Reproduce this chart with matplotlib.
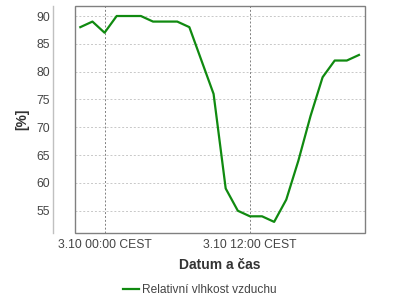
"""
Relative humidity over one day, redrawn with matplotlib.
"""

import matplotlib
matplotlib.use('Agg')
import matplotlib.pyplot as plt
from matplotlib.patches import Rectangle

# hours relative to 3.10 00:00 CEST
hours = [-2, -1, 0, 1, 2, 3, 4, 5, 6, 7, 8, 9, 10, 11, 12,
         13, 14, 15, 16, 17, 18, 19, 20, 21]
humidity = [88, 89, 87, 90, 90, 90, 89, 89, 89, 88, 82, 76, 59, 55, 54,
            54, 53, 57, 64, 72, 79, 82, 82, 83]

x_ticks = [0, 12]
x_tick_labels = ['3.10 00:00 CEST', '3.10 12:00 CEST']
y_ticks = [55, 60, 65, 70, 75, 80, 85, 90]

series_name = 'Relativní vlhkost vzduchu'
line_color = '#108a10'
text_color = '#444444'


def main():
    plt.rcParams['font.family'] = ['Liberation Sans', 'DejaVu Sans']

    fig = plt.figure(figsize=(4, 3), dpi=100)
    ax = fig.add_axes([75 / 400, 67 / 300, 290 / 400, 227 / 300])

    ax.plot(hours, humidity, color=line_color, linewidth=1.6,
            label=series_name, zorder=3)

    ax.set_xlim(-2.44, 21.5)
    ax.set_ylim(51.0, 91.8)

    # grid: light horizontal dashes, darker vertical ones
    for y in y_ticks:
        ax.axhline(y, color='#c8c8c8', linewidth=0.7, linestyle=(0, (2, 2)), zorder=1)
    for x in x_ticks:
        ax.axvline(x, color='#808080', linewidth=0.7, linestyle=(0, (2, 2)), zorder=1)

    ax.set_xticks(x_ticks)
    ax.set_xticklabels(x_tick_labels)
    ax.set_yticks(y_ticks)
    ax.tick_params(axis='both', length=0, labelsize=8.7, labelcolor=text_color)
    ax.tick_params(axis='x', pad=4.5)
    ax.tick_params(axis='y', pad=2)

    # plot frame plus a detached y axis line (22 px left of the frame)
    for side in ['top', 'right', 'bottom']:
        ax.spines[side].set_visible(False)
    ax.spines['left'].set_position(('outward', 22 * 72 / 100))
    ax.spines['left'].set_color('#c0c0c0')
    ax.spines['left'].set_linewidth(1.0)
    ax.add_patch(Rectangle((0, 0), 1, 1, transform=ax.transAxes, fill=False,
                           edgecolor='#808080', linewidth=1.0, clip_on=False, zorder=4))

    ax.set_xlabel('Datum a čas', fontsize=10, fontweight='bold', color='#333333', labelpad=5)
    ax.set_ylabel('[%]', fontsize=10, fontweight='bold', color='#333333', labelpad=5)

    fig.legend(loc='lower center', bbox_to_anchor=(0.5, -0.022), frameon=False,
               fontsize=8.6, handlelength=1.3, handletextpad=0.3,
               labelcolor=text_color)

    fig.savefig('out.png', dpi=100)


if __name__ == '__main__':
    main()
